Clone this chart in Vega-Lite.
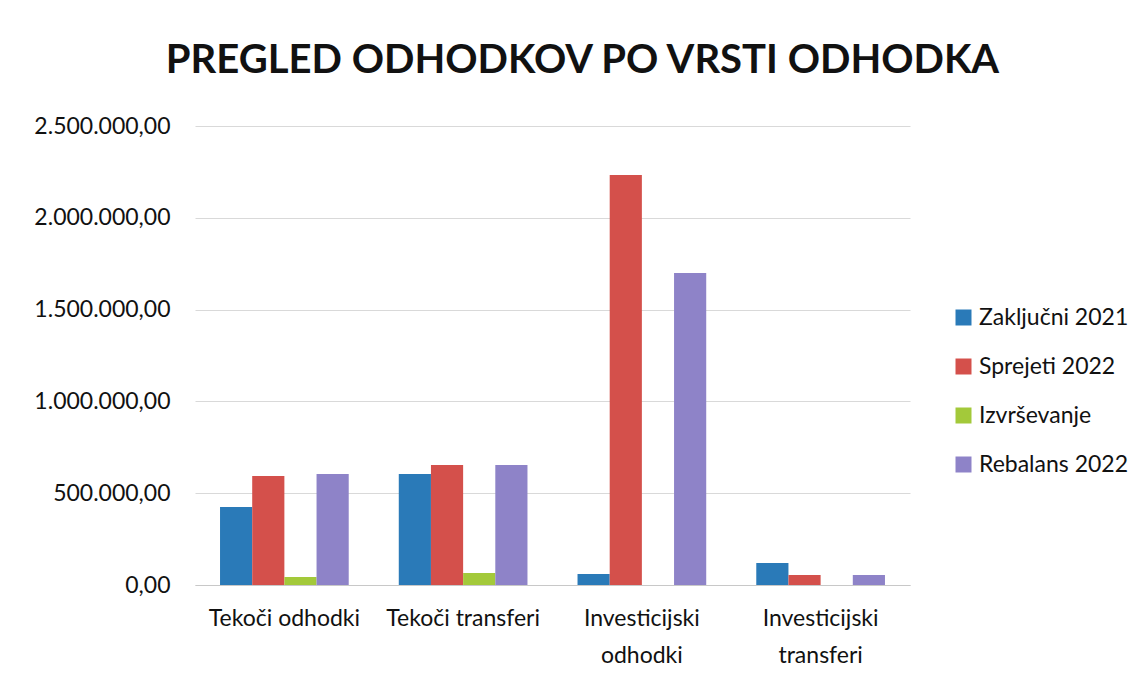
{
  "$schema": "https://vega.github.io/schema/vega-lite/v6.json",
  "autosize": {"type": "none"},
  "padding": {"left": 195, "top": 126, "right": 236, "bottom": 91},
  "width": 715,
  "height": 459,
  "background": "white",
  "title": {
    "text": "PREGLED ODHODKOV PO VRSTI ODHODKA",
    "font": "Lato",
    "fontSize": 40,
    "fontWeight": "bold",
    "color": "#111111",
    "anchor": "middle",
    "dx": 30,
    "offset": 34
  },
  "data": {
    "values": [
      {"kategorija": "Tekoči odhodki", "serija": "Zaključni 2021", "vrednost": 425000},
      {"kategorija": "Tekoči odhodki", "serija": "Sprejeti 2022", "vrednost": 594000},
      {"kategorija": "Tekoči odhodki", "serija": "Izvrševanje", "vrednost": 44000},
      {"kategorija": "Tekoči odhodki", "serija": "Rebalans 2022", "vrednost": 605000},
      {"kategorija": "Tekoči transferi", "serija": "Zaključni 2021", "vrednost": 605000},
      {"kategorija": "Tekoči transferi", "serija": "Sprejeti 2022", "vrednost": 654000},
      {"kategorija": "Tekoči transferi", "serija": "Izvrševanje", "vrednost": 65000},
      {"kategorija": "Tekoči transferi", "serija": "Rebalans 2022", "vrednost": 654000},
      {"kategorija": "Investicijski odhodki", "serija": "Zaključni 2021", "vrednost": 60000},
      {"kategorija": "Investicijski odhodki", "serija": "Sprejeti 2022", "vrednost": 2233000},
      {"kategorija": "Investicijski odhodki", "serija": "Izvrševanje", "vrednost": 0},
      {"kategorija": "Investicijski odhodki", "serija": "Rebalans 2022", "vrednost": 1700000},
      {"kategorija": "Investicijski transferi", "serija": "Zaključni 2021", "vrednost": 120000},
      {"kategorija": "Investicijski transferi", "serija": "Sprejeti 2022", "vrednost": 55000},
      {"kategorija": "Investicijski transferi", "serija": "Izvrševanje", "vrednost": 0},
      {"kategorija": "Investicijski transferi", "serija": "Rebalans 2022", "vrednost": 55000}
    ]
  },
  "mark": {"type": "bar"},
  "encoding": {
    "x": {
      "field": "kategorija",
      "type": "nominal",
      "sort": ["Tekoči odhodki", "Tekoči transferi", "Investicijski odhodki", "Investicijski transferi"],
      "scale": {"paddingInner": 0.28, "paddingOuter": 0.14},
      "axis": {
        "title": null,
        "labelAngle": 0,
        "labelFont": "Lato",
        "labelFontSize": 23,
        "labelColor": "#111111",
        "labelPadding": 22,
        "labelLineHeight": 37,
        "labelLimit": 300,
        "ticks": false,
        "domainColor": "#c8c8c8",
        "labelExpr": "indexof(datum.value, 'Investicijski') == 0 ? split(datum.value, ' ') : datum.value"
      }
    },
    "xOffset": {
      "field": "serija",
      "type": "nominal",
      "sort": ["Zaključni 2021", "Sprejeti 2022", "Izvrševanje", "Rebalans 2022"]
    },
    "y": {
      "field": "vrednost",
      "type": "quantitative",
      "scale": {"domain": [0, 2500000]},
      "axis": {
        "title": null,
        "values": [0, 500000, 1000000, 1500000, 2000000, 2500000],
        "format": ",.2f",
        "labelFont": "Lato",
        "labelFontSize": 23,
        "labelColor": "#111111",
        "labelPadding": 25,
        "labelLimit": 300,
        "ticks": false,
        "domain": false,
        "gridColor": "#d9d9d9"
      }
    },
    "color": {
      "field": "serija",
      "type": "nominal",
      "sort": ["Zaključni 2021", "Sprejeti 2022", "Izvrševanje", "Rebalans 2022"],
      "scale": {
        "domain": ["Zaključni 2021", "Sprejeti 2022", "Izvrševanje", "Rebalans 2022"],
        "range": ["#2a7ab8", "#d4504b", "#a3c93a", "#8e83c8"]
      },
      "legend": {
        "title": null,
        "orient": "none",
        "legendX": 757,
        "legendY": 180,
        "symbolType": "square",
        "symbolSize": 256,
        "labelFont": "Lato",
        "labelFontSize": 23,
        "labelColor": "#111111",
        "labelLimit": 300,
        "rowPadding": 25,
        "labelOffset": 4
      }
    }
  },
  "config": {
    "locale": {
      "number": {"decimal": ",", "thousands": ".", "grouping": [3], "currency": ["", " €"]}
    },
    "view": {"stroke": null}
  }
}
